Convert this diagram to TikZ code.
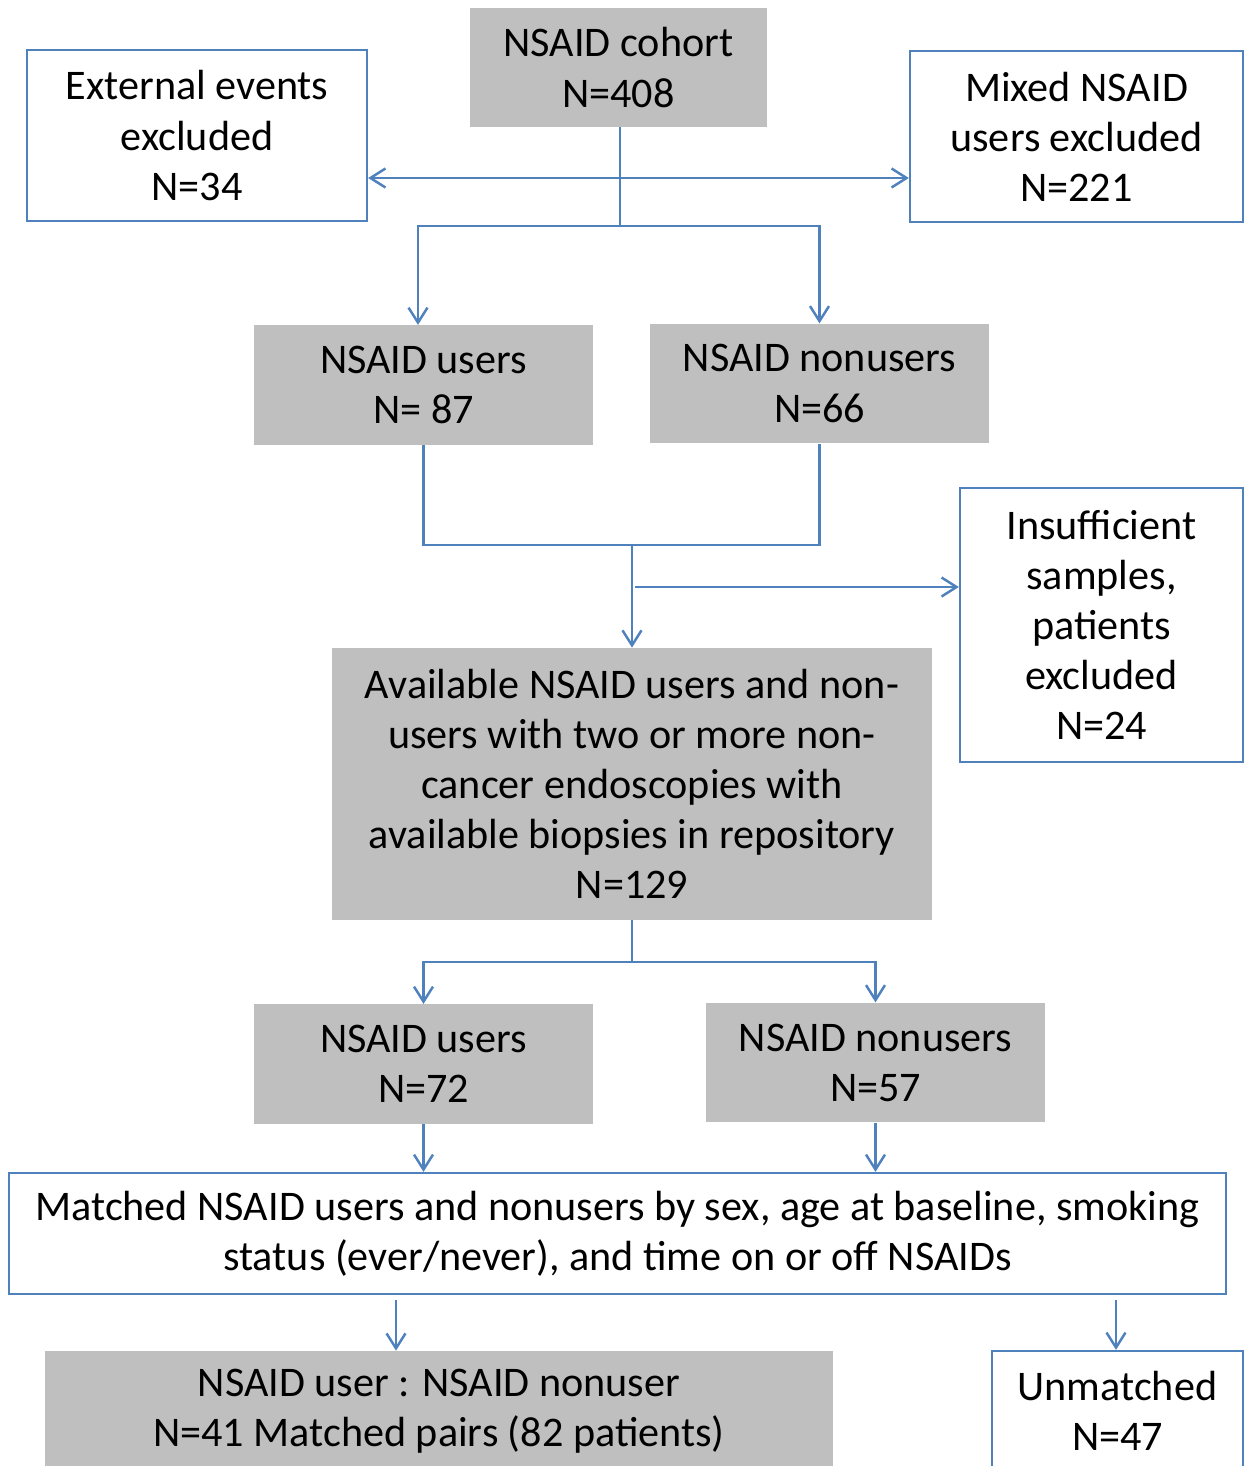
\documentclass[tikz,border=0pt]{standalone}
\usepackage{fontspec}
\setmainfont{Carlito}
\usepackage{tikz}
\usetikzlibrary{arrows.meta}
\definecolor{boxgray}{HTML}{BFBFBF}
\definecolor{lineblue}{HTML}{4F81BD}
\tikzstyle{graybox}=[fill=boxgray,align=center,inner sep=0pt]
\tikzstyle{bluebox}=[draw=lineblue,line width=1.3pt,fill=white,align=center,inner sep=0pt]
\tikzstyle{flow}=[draw=lineblue,line width=1.4pt]
\tikzstyle{arr}=[-{Straight Barb[length=0.3cm,width=0.38cm,line width=1.4pt]}]

\begin{document}
\begin{tikzpicture}[font=\fontsize{24}{28.5}\selectfont]
\useasboundingbox (0,0) rectangle (25.02,-29.32);
% boxes of the first level
\node[graybox,minimum width=5.94cm,minimum height=2.38cm] (cohort) at (12.37,-1.35) {NSAID cohort\\N=408};
\node[bluebox,minimum width=6.8cm,minimum height=3.42cm] (external) at (3.94,-2.71) {External events\\excluded\\N=34};
\node[bluebox,minimum width=6.66cm,minimum height=3.42cm] (mixed) at (21.53,-2.73) {Mixed NSAID\\users excluded\\N=221};
\foreach \place/\name/\txt in {{(8.47,-7.7)/users1/NSAID users\\N= 87}, {(16.39,-7.67)/nonusers1/NSAID nonusers\\N=66},
  {(8.47,-21.28)/users2/NSAID users\\N=72}, {(17.51,-21.25)/nonusers2/NSAID nonusers\\N=57}}
    \node[graybox,minimum width=6.78cm,minimum height=2.39cm] (\name) at \place {\txt};
\node[bluebox,minimum width=5.66cm,minimum height=5.48cm] (insufficient) at (22.03,-12.5) {Insufficient\\samples,\\patients\\excluded\\N=24};
\node[graybox,minimum width=12cm,minimum height=5.44cm] (available) at (12.64,-15.68) {Available NSAID users and non-\\users with two or more non-\\cancer endoscopies with\\available biopsies in repository\\N=129};
\node[bluebox,minimum width=24.34cm,minimum height=2.42cm] (matched) at (12.35,-24.67) {Matched NSAID users and nonusers by sex, age at baseline, smoking\\status (ever/never), and time on or off NSAIDs};
\node[graybox,minimum width=15.76cm,minimum height=2.4cm] (pairs) at (8.78,-28.22) {NSAID user : NSAID nonuser\\N=41 Matched pairs (82 patients)};
\node[bluebox,minimum width=5.02cm,minimum height=2.4cm] (unmatched) at (22.35,-28.22) {Unmatched\\N=47};

% junction points
\coordinate (hub1) at (12.4,-3.56);
\coordinate (split1) at (12.4,-4.52);
\coordinate (join2) at (12.64,-10.9);
\coordinate (tap2) at (12.7,-11.74);
\coordinate (split3) at (12.64,-19.24);
\coordinate (m1) at (7.92,-26.0);
\coordinate (m2) at (22.32,-26.0);

% connectors
\draw[flow] ([xshift=0.03cm]cohort.south) -- (split1);
\draw[flow,arr] (hub1) -- (hub1 -| external.east);
\draw[flow,arr] (hub1) -- (hub1 -| mixed.west);
\draw[flow,arr] (split1) -| ([xshift=-0.11cm]users1.north);
\draw[flow,arr] (split1) -| (nonusers1.north);
\draw[flow] (users1.south) |- (join2) -| (nonusers1.south);
\draw[flow,arr] (join2) -- (available.north);
\draw[flow,arr] (tap2) -- (tap2 -| insufficient.west);
\draw[flow] (available.south) -- (split3);
\draw[flow,arr] (split3) -| (users2.north);
\draw[flow,arr] (split3) -| (nonusers2.north);
\foreach \src in {users2,nonusers2}
  \draw[flow,arr] (\src.south) -- (\src.south |- matched.north);
\draw[flow,arr] (m1) -- (m1 |- pairs.north);
\draw[flow,arr] (m2) -- (m2 |- unmatched.north);
\end{tikzpicture}
\end{document}
